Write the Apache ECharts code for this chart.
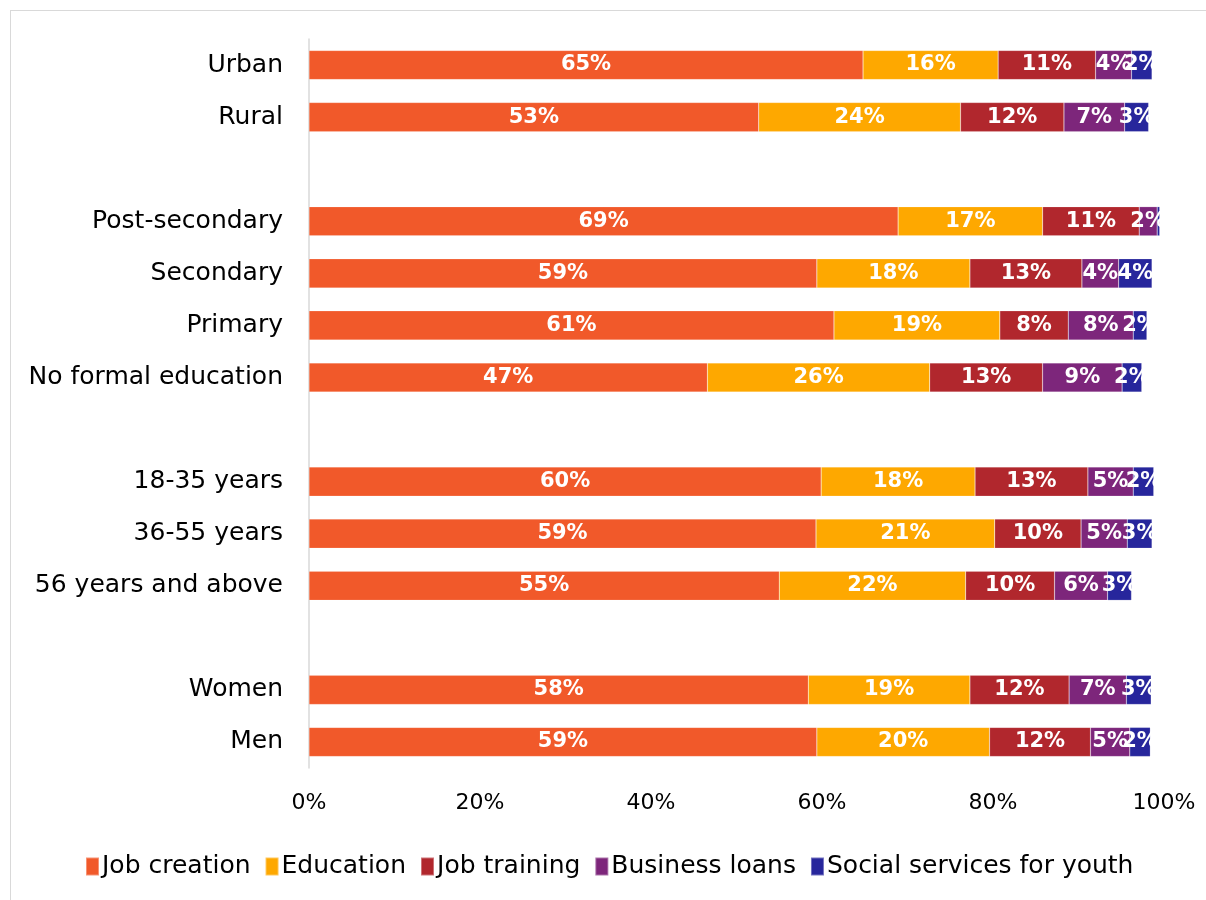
<!DOCTYPE html>
<html>
<head>
<meta charset="utf-8">
<script src="https://cdn.jsdelivr.net/npm/echarts@6/dist/echarts.min.js"></script>
<style>
    html, body { margin: 0; padding: 0; background: #ffffff; overflow: hidden; width: 1206px; height: 900px; }
    #frame {
        position: absolute; left: 10px; top: 10px;
        width: 1196px; height: 890px;
        border-left: 1px solid #d9d9d9; border-top: 1px solid #d9d9d9; box-sizing: border-box;
    }
    #chart { position: absolute; left: 0; top: 0; width: 1206px; height: 900px; }
</style>
</head>
<body>
<div id="frame"></div>
<div id="chart"></div>
<script>
// rows top to bottom, empty strings are spacer rows between groups
const categories = ['Urban', 'Rural', '', 'Post-secondary', 'Secondary', 'Primary', 'No formal education',
    '', '18-35 years', '36-55 years', '56 years and above', '', 'Women', 'Men'];

const jobCreation = [64.8, 52.6, null, 68.9, 59.4, 61.4, 46.6, null, 59.9, 59.3, 55.0, null, 58.4, 59.4];
const education = [15.8, 23.6, null, 16.9, 17.9, 19.4, 26.0, null, 18.0, 20.9, 21.8, null, 18.9, 20.2];
const jobTraining = [11.4, 12.1, null, 11.3, 13.1, 8.0, 13.2, null, 13.2, 10.1, 10.4, null, 11.6, 11.8];
const businessLoans = [4.2, 7.1, null, 2.1, 4.3, 7.6, 9.3, null, 5.3, 5.4, 6.2, null, 6.7, 4.6];
const socialServices = [2.4, 2.8, null, 0.3, 3.9, 1.6, 2.3, null, 2.4, 2.9, 2.8, null, 2.9, 2.4];

const seriesNames = ['Job creation', 'Education', 'Job training', 'Business loans', 'Social services for youth'];
const seriesColors = ['#f1592a', '#fea800', '#b1272d', '#7d267b', '#27269c'];
const seriesData = [jobCreation, education, jobTraining, businessLoans, socialServices];

const xTicks = [0, 20, 40, 60, 80, 100];

const fontFamily = '"DejaVu Sans", sans-serif';

var myChart = echarts.init(document.getElementById('chart'));

myChart.setOption({
    animation: false,
    grid: {
        left: 309,
        right: 42,
        top: 39,
        bottom: 132
    },
    legend: {
        bottom: 16,
        left: 80,
        itemWidth: 13,
        itemHeight: 18,
        itemGap: 14,
        icon: 'rect',
        textStyle: { fontFamily: fontFamily, fontSize: 25, color: '#000000', padding: [0, 0, 0, -2] },
        data: seriesNames
    },
    xAxis: {
        type: 'value',
        min: xTicks[0],
        max: xTicks[xTicks.length - 1],
        interval: 20,
        splitLine: { show: false },
        axisLine: { show: false },
        axisTick: { show: false },
        axisLabel: {
            margin: 24,
            fontFamily: fontFamily,
            fontSize: 22,
            color: '#000000',
            formatter: v => v + '%'
        }
    },
    yAxis: {
        type: 'category',
        inverse: true,
        data: categories,
        axisLine: { show: true, lineStyle: { color: '#d9d9d9', width: 1.5 } },
        axisTick: { show: false },
        axisLabel: {
            margin: 26,
            fontFamily: fontFamily,
            fontSize: 25,
            color: '#000000'
        }
    },
    series: seriesData.map((d, i) => ({
        name: seriesNames[i],
        type: 'bar',
        stack: 'total',
        barWidth: '56%',
        data: d,
        itemStyle: { color: seriesColors[i], borderColor: 'rgba(255,255,255,0.35)', borderWidth: 0.5 },
        label: {
            show: true,
            position: 'inside',
            color: '#ffffff',
            fontFamily: fontFamily,
            fontWeight: 'bold',
            fontSize: 21,
            formatter: p => (p.value == null || p.value < 1) ? '' : Math.round(p.value) + '%'
        }
    }))
});
</script>
</body>
</html>
